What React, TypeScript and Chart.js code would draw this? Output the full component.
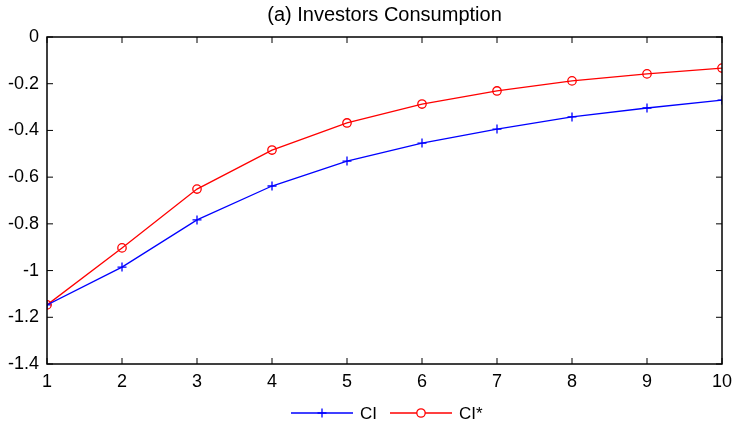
import React, { useEffect, useRef } from "react";
import { Chart, registerables } from "chart.js";

Chart.register(...registerables);

const titleText = "(a) Investors Consumption";
const xValues = [1, 2, 3, 4, 5, 6, 7, 8, 9, 10];
const ciValues = [-1.147, -0.985, -0.783, -0.638, -0.531, -0.454, -0.394, -0.342, -0.304, -0.270];
const ciStarValues = [-1.147, -0.903, -0.651, -0.484, -0.368, -0.287, -0.231, -0.188, -0.158, -0.133];
const seriesNames = ["CI", "CI*"];
const yTickValues = [0, -0.2, -0.4, -0.6, -0.8, -1, -1.2, -1.4];
const yTickLabels = ["0", "-0.2", "-0.4", "-0.6", "-0.8", "-1", "-1.2", "-1.4"];

const FONT = "'Liberation Sans', Arial, sans-serif";
const BLUE = "#0000ff";
const RED = "#ff0000";

const boxPlugin = {
  id: "boxAndTicks",
  afterDraw(chart: any) {
    const { ctx, chartArea, scales } = chart;
    const { left, right, top, bottom } = chartArea;
    ctx.save();
    ctx.strokeStyle = "#000";
    ctx.lineWidth = 1.5;
    ctx.strokeRect(left, top, right - left, bottom - top);
    ctx.lineWidth = 1;
    const tl = 6;
    ctx.beginPath();
    for (const v of xValues) {
      const x = scales.x.getPixelForValue(v);
      ctx.moveTo(x, bottom);
      ctx.lineTo(x, bottom - tl);
      ctx.moveTo(x, top);
      ctx.lineTo(x, top + tl);
    }
    for (const v of yTickValues) {
      const y = scales.y.getPixelForValue(v);
      ctx.moveTo(left, y);
      ctx.lineTo(left + tl, y);
      ctx.moveTo(right, y);
      ctx.lineTo(right - tl, y);
    }
    ctx.stroke();

    // title centred over the plot area
    ctx.fillStyle = "#000";
    ctx.font = `20px ${FONT}`;
    ctx.textAlign = "center";
    ctx.textBaseline = "middle";
    ctx.fillText(titleText, (left + right) / 2, 15);

    // legend
    const ly = 413;
    const items = [
      { color: BLUE, x0: 291, x1: 353, label: seriesNames[0], marker: "plus" },
      { color: RED, x0: 390, x1: 452, label: seriesNames[1], marker: "circle" },
    ];
    ctx.font = `17px ${FONT}`;
    ctx.textBaseline = "middle";
    ctx.textAlign = "left";
    for (const it of items) {
      ctx.strokeStyle = it.color;
      ctx.lineWidth = 1.3;
      ctx.beginPath();
      ctx.moveTo(it.x0, ly);
      ctx.lineTo(it.x1, ly);
      ctx.stroke();
      const cx = (it.x0 + it.x1) / 2;
      ctx.beginPath();
      if (it.marker === "plus") {
        ctx.moveTo(cx - 4.5, ly);
        ctx.lineTo(cx + 4.5, ly);
        ctx.moveTo(cx, ly - 4.5);
        ctx.lineTo(cx, ly + 4.5);
        ctx.stroke();
      } else {
        ctx.fillStyle = "#fff";
        ctx.arc(cx, ly, 4.2, 0, Math.PI * 2);
        ctx.fill();
        ctx.stroke();
      }
      ctx.fillStyle = "#000";
      ctx.fillText(it.label, it.x1 + 7, ly + 1);
    }
    ctx.restore();
  },
};

export default function App() {
  const ref = useRef<HTMLCanvasElement>(null);
  useEffect(() => {
    document.body.style.margin = "0";
    const chart = new Chart(ref.current!, {
      type: "line",
      data: {
        datasets: [
          {
            label: seriesNames[0],
            data: xValues.map((x, i) => ({ x, y: ciValues[i] })),
            borderColor: BLUE,
            backgroundColor: BLUE,
            borderWidth: 1.3,
            pointRadius: 0,
            tension: 0,
          },
          {
            label: seriesNames[1],
            data: xValues.map((x, i) => ({ x, y: ciStarValues[i] })),
            borderColor: RED,
            backgroundColor: "rgba(255,255,255,0)",
            borderWidth: 1.3,
            pointStyle: "circle",
            pointRadius: 4.2,
            pointBorderWidth: 1.3,
            tension: 0,
          },
          {
            label: "ci-markers",
            data: xValues.map((x, i) => ({ x, y: ciValues[i] })),
            borderColor: BLUE,
            backgroundColor: BLUE,
            showLine: false,
            pointStyle: "cross",
            pointRadius: 4.5,
            pointBorderWidth: 1.3,
          },
        ],
      },
      options: {
        animation: false,
        responsive: false,
        devicePixelRatio: 1,
        layout: { padding: { left: 0, right: 12, top: 37, bottom: 31 } },
        plugins: {
          legend: { display: false },
          tooltip: { enabled: false },
          title: { display: false },
        },
        scales: {
          x: {
            type: "linear",
            min: 1,
            max: 10,
            afterFit: (s: any) => {
              s.height = 30;
              s.paddingLeft = 0;
              s.paddingRight = 0;
            },
            afterBuildTicks: (s: any) => {
              s.ticks = xValues.map((v) => ({ value: v }));
            },
            grid: { display: false, drawTicks: false },
            border: { display: false },
            ticks: {
              color: "#000",
              font: { family: FONT, size: 18 },
              padding: 7,
              maxRotation: 0,
              callback: (v: any) => String(v),
            },
          },
          y: {
            type: "linear",
            min: -1.4,
            max: 0,
            afterFit: (s: any) => {
              s.width = 47;
              s.paddingTop = 0;
              s.paddingBottom = 0;
            },
            afterBuildTicks: (s: any) => {
              s.ticks = yTickValues.map((v) => ({ value: v }));
            },
            grid: { display: false, drawTicks: false },
            border: { display: false },
            ticks: {
              color: "#000",
              font: { family: FONT, size: 18 },
              padding: 8,
              callback: (v: any) => {
                const i = yTickValues.findIndex((t) => Math.abs(t - v) < 1e-9);
                return i >= 0 ? yTickLabels[i] : "";
              },
            },
          },
        },
      },
      plugins: [boxPlugin],
    });
    return () => chart.destroy();
  }, []);
  return (
    <div style={{ position: "fixed", left: 0, top: 0, width: 734, height: 425, background: "#fff" }}>
      <canvas ref={ref} width={734} height={425} style={{ width: 734, height: 425 }} />
    </div>
  );
}
